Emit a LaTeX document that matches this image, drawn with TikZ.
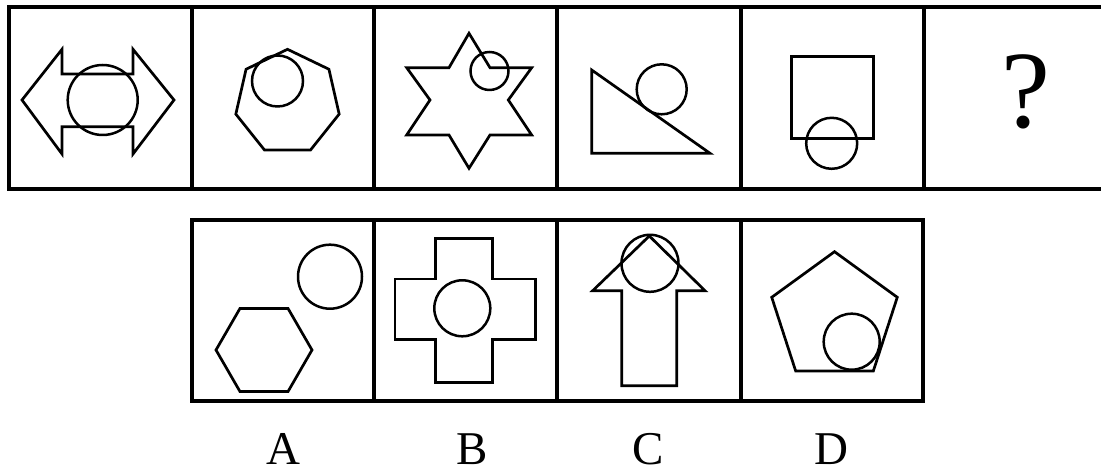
\documentclass[tikz,border=0pt]{standalone}
\usepackage{fontspec}
\setmainfont{Liberation Serif}
\begin{document}
\begin{tikzpicture}[x=1pt,y=1pt,
  frame/.style={line width=3.4pt},
  figline/.style={line width=2.7pt, line join=miter},
  ring/.style={line width=2.5pt},
  lbl/.style={anchor=base, inner sep=0pt, font=\fontsize{47}{49}\selectfont}]
\useasboundingbox (0,0) rectangle (1101,476);
% ---------- frames ----------
\draw[frame] (1115,469) -- (9,469) -- (9,287) -- (1115,287);
\foreach \x in {192,374,557,741,924} \draw[frame] (\x,469) -- (\x,287);
\draw[frame] (192,75) rectangle (923,256);
\foreach \x in {374,557,741} \draw[frame] (\x,256) -- (\x,75);
% ---------- top row ----------
% 1: double arrow
\draw[figline] (22,376) -- (62,426.7) -- (62,402) -- (133,402) -- (133,426.7) -- (174,376)
  -- (133,322) -- (133,349.3) -- (62,349.3) -- (62,322) -- cycle;
\draw[ring] (102.7,376) circle (35);
% 2: heptagon
\draw[figline] (287.5,373.7) +(90:53) \foreach \k in {1,...,6} { -- +({90+\k*360/7}:53) } -- cycle;
\draw[ring] (277.5,395) circle (25.5);
% 3: hexagram
\draw[figline] (469,442.7) -- (490,408.3) -- (531.7,408.3) -- (508.3,376) -- (531.7,341) -- (490,341)
  -- (469,307.7) -- (449,341) -- (406.7,341) -- (430,376) -- (406.7,408.3) -- (449,408.3) -- cycle;
\draw[ring] (489.5,405) circle (19);
% 4: right triangle
\draw[figline] (591.7,406) -- (591.7,322.7) -- (710,322.7) -- cycle;
\draw[ring] (661.7,386.7) circle (25);
% 5: square
\draw[figline] (791.7,337.7) rectangle (873.3,419.3);
\draw[ring] (831.7,332.7) circle (25.5);
% 6: question mark
\node[anchor=base, inner sep=0pt, font=\fontsize{110}{112}\selectfont] (q) at (1025.5,348) {?};
% ---------- bottom row ----------
% A: hexagon + circle
\draw[figline] (264,126) +(0:48) \foreach \k in {1,...,5} { -- +({\k*60}:48) } -- cycle;
\draw[ring] (330,199.3) circle (32);
% B: cross
\draw[figline] (435.7,237.7) -- (492.3,237.7) -- (492.3,197) -- (535.7,197) -- (535.7,136.7) -- (492.3,136.7)
  -- (492.3,93.3) -- (435.7,93.3) -- (435.7,136.7) -- (395,136.7) -- (395,197) -- (435.7,197) -- cycle;
\draw[ring] (462.3,167.7) circle (28);
% C: up arrow
\draw[figline] (649.3,240) -- (705,185.3) -- (676.7,185.3) -- (676.7,90.3) -- (621.7,90.3)
  -- (621.7,185.3) -- (592.7,185.3) -- cycle;
\draw[ring] (650,212.7) circle (28.5);
% D: pentagon
\draw[figline] (834.5,158.3) +(90:66) \foreach \k in {1,...,4} { -- +({90+\k*72}:66) } -- cycle;
\draw[ring] (851.7,134.3) circle (28);
% ---------- labels ----------
\node[lbl] (la) at (283,11) {A};
\node[lbl] (lb) at (472.5,11) {B};
\node[lbl] (lc) at (648,11) {C};
\node[lbl] (ld) at (831,11) {D};
\end{tikzpicture}
\end{document}
